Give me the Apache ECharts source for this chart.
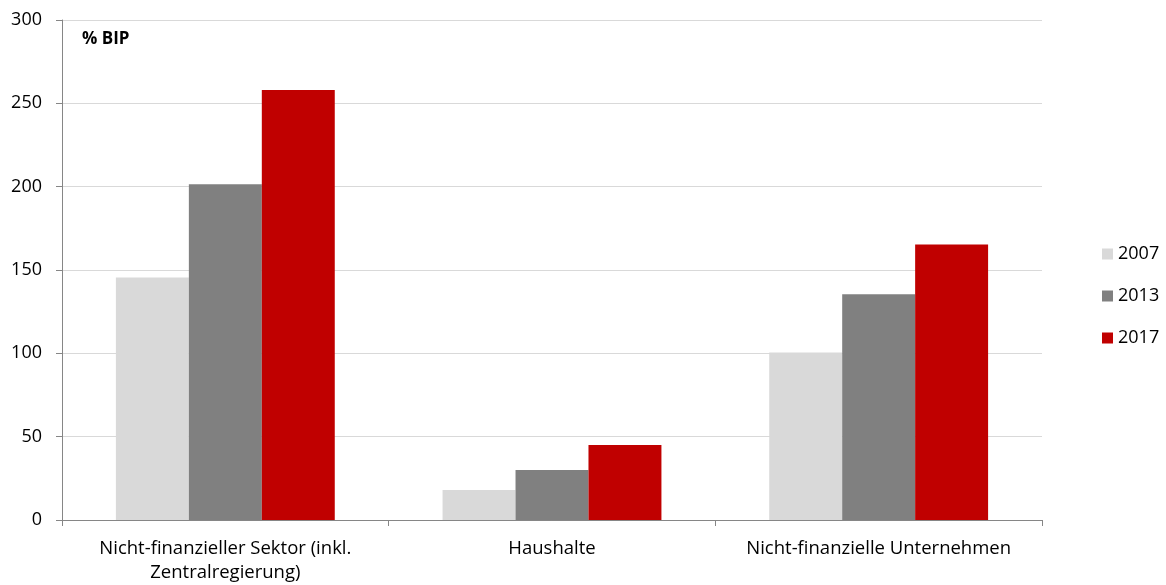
<!DOCTYPE html>
<html>
<head>
<meta charset="utf-8">
<script src="https://cdn.jsdelivr.net/npm/echarts@6/dist/echarts.min.js"></script>
<style>
  html, body { margin: 0; padding: 0; background: #fff; }
  #chart { width: 1166px; height: 585px; }
</style>
</head>
<body>
<div id="chart"></div>
<script>
var categories = ["Nicht-finanzieller Sektor (inkl.\nZentralregierung)", "Haushalte", "Nicht-finanzielle Unternehmen"];
var years = ["2007", "2013", "2017"];
var v2007 = [145.5, 18, 100.5];
var v2013 = [201.5, 30, 135.5];
var v2017 = [258, 45, 165.3];
var colors = ["#d9d9d9", "#808080", "#c00000"];
var yTicks = { min: 0, max: 300, interval: 50 };

var font = "'Open Sans', 'Liberation Sans', sans-serif";
var myChart = echarts.init(document.getElementById("chart"));

var seriesData = [v2007, v2013, v2017];
var series = years.map(function (y, i) {
  return {
    name: y,
    type: "bar",
    data: seriesData[i],
    barGap: "0%",
    barCategoryGap: "33%",
    itemStyle: { color: colors[i] },
    animation: false
  };
});

myChart.setOption({
  animation: false,
  textStyle: { fontFamily: font },
  grid: { left: 62, right: 124, top: 20, bottom: 64, containLabel: false },
  graphic: [{
    type: "text", left: 82, top: 31,
    style: { text: "% BIP", font: "bold 17px " + font, fill: "#000" }
  }],
  legend: {
    orient: "vertical",
    left: 1097, top: 240,
    itemWidth: 11, itemHeight: 11, itemGap: 24,
    icon: "rect",
    textStyle: { fontSize: 18, color: "#000", fontFamily: font },
    data: years
  },
  xAxis: {
    type: "category",
    data: categories,
    axisLine: { lineStyle: { color: "#868686", width: 1 } },
    axisTick: { show: true, length: 6, lineStyle: { color: "#868686" } },
    axisLabel: {
      color: "#000", fontSize: 18.5, lineHeight: 24, margin: 17, fontFamily: font,
      interval: 0, hideOverlap: false
    }
  },
  yAxis: {
    type: "value",
    min: yTicks.min, max: yTicks.max, interval: yTicks.interval,
    axisLine: { show: true, lineStyle: { color: "#868686" } },
    axisTick: { show: true, length: 6, inside: false, lineStyle: { color: "#868686" } },
    axisLabel: { color: "#000", fontSize: 18, margin: 20, fontFamily: font },
    splitLine: { lineStyle: { color: "#d9d9d9", width: 1 } }
  },
  series: series
});
</script>
</body>
</html>
